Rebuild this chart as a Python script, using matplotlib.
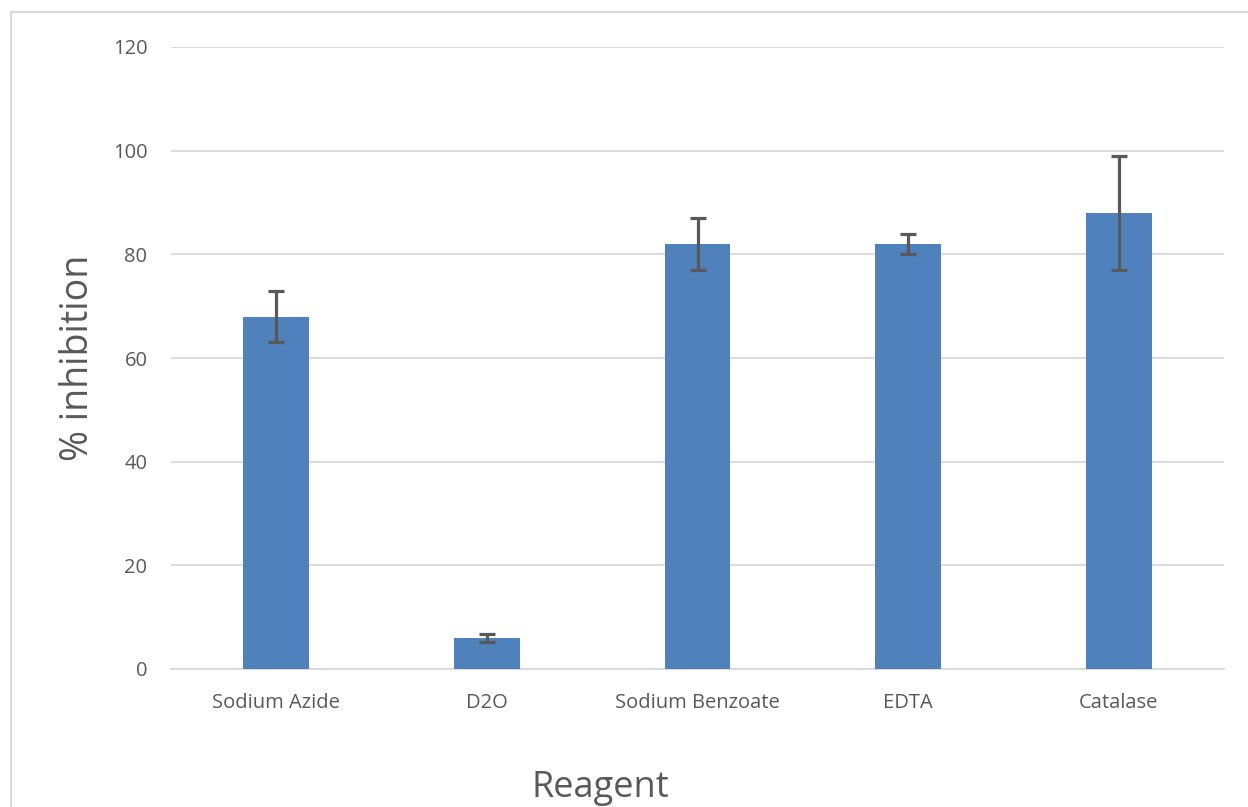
import numpy as np
import matplotlib.pyplot as plt
from matplotlib.patches import Rectangle

reagents = ['Sodium Azide', 'D2O', 'Sodium Benzoate', 'EDTA', 'Catalase']
inhibition = [68, 6, 82, 82, 88]
errors = [5, 0.7, 5, 2, 11]
yticks = [0, 20, 40, 60, 80, 100, 120]

plt.rcParams['font.family'] = ['Open Sans', 'DejaVu Sans']

fig = plt.figure(figsize=(12.48, 8.07), dpi=100)
ax = fig.add_axes([171 / 1248, 1 - 669 / 807, (1224 - 171) / 1248, (669 - 47) / 807])

# chart area border (light gray)
fig.patches.append(Rectangle((11 / 1248, -0.1), 2.0, 1.1 - 12 / 807,
                             transform=fig.transFigure, fill=False,
                             edgecolor='#d9d9d9', linewidth=1.5))

x = np.arange(len(reagents))
ax.bar(x, inhibition, width=0.313, color='#4f81bd', zorder=3)
ax.errorbar(x, inhibition, yerr=errors, fmt='none', ecolor='#595959',
            elinewidth=2.3, capsize=6, capthick=2.3, zorder=4)

ax.set_xlim(-0.5, len(reagents) - 0.5)
ax.set_ylim(0, 120)
ax.set_yticks(yticks)
ax.set_xticks(x)
ax.set_xticklabels(reagents)
ax.grid(axis='y', color='#d9d9d9', linewidth=1.3, zorder=0)
for s in ['top', 'right', 'left']:
    ax.spines[s].set_visible(False)
ax.spines['bottom'].set_color('#d9d9d9')
ax.spines['bottom'].set_linewidth(1.3)
ax.tick_params(length=0, labelsize=14.5, labelcolor='#595959')
ax.tick_params(axis='y', pad=17)
ax.tick_params(axis='x', pad=17)

fig.text(78 / 1248, 1 - 358 / 807, '% inhibition', rotation=90, ha='center',
         va='center', fontsize=27, color='#595959')
fig.text(600 / 1248, 1 - 788 / 807, 'Reagent', ha='center', va='center',
         fontsize=26, color='#595959')

fig.savefig('out.png', dpi=100)
